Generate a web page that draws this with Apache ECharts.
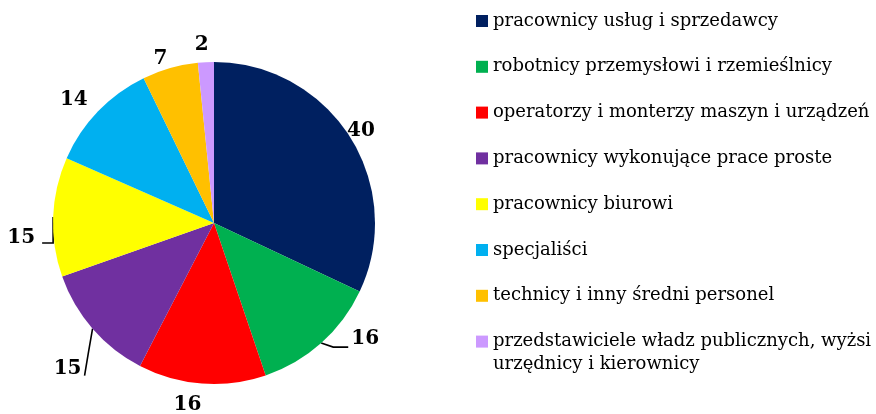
<!DOCTYPE html>
<html>
<head>
<meta charset="utf-8">
<script src="https://cdn.jsdelivr.net/npm/echarts@6/dist/echarts.min.js"></script>
<style>
  html, body { margin: 0; padding: 0; background: #fff; }
  #chart { width: 876px; height: 414px; }
</style>
</head>
<body>
<div id="chart"></div>
<script>
// categories and values, in drawing order (clockwise from 12 o'clock)
const categories = [
    "pracownicy usług i sprzedawcy",
    "robotnicy przemysłowi i rzemieślnicy",
    "operatorzy i monterzy maszyn i urządzeń",
    "pracownicy wykonujące prace proste",
    "pracownicy biurowi",
    "specjaliści",
    "technicy i inny średni personel",
    "przedstawiciele władz publicznych, wyżsi urzędnicy i kierownicy",
];
const values = [40, 16, 16, 15, 15, 14, 7, 2];
const colors = ["#002060", "#00B050", "#FF0000", "#7030A0", "#FFFF00", "#00B0F0", "#FFC000", "#CC99FF"];
// which labels get a leader line
const withLine = [false, true, false, true, true, false, false, false];
// nudges for labels [dx, dy] and leader line bends (relative to the slice edge point)
const labelNudge = [[-13, -3], [1, -13], [5, 15], [19, 32], [15, 21], [-1, -7], [4, -4], [8, -11]];
const lineBends = {
    1: [[12, 4], [27, 4]],
    3: [[-4, 23], [-8, 47]],
    4: [[0, 26], [-11, 26]],
};

const FONT = "DejaVu Serif";
const chart = echarts.init(document.getElementById("chart"));

const data = categories.map((name, i) => ({
    name: name,
    value: values[i],
    itemStyle: { color: colors[i] },
    labelLine: withLine[i]
        ? { show: true, length: 12, length2: 16 }
        : { show: false, length: 6, length2: 0 },
}));

const options = {
    animation: false,
    legend: {
        orient: "vertical",
        left: 471,
        top: 6,
        icon: "rect",
        itemWidth: 12,
        itemHeight: 12,
        itemGap: 25.8,
        selectedMode: false,
        data: categories,
        formatter: (name) => name === categories[7] ? "przedstawiciele władz publicznych, wyżsi" : name,
        textStyle: {
            fontFamily: FONT,
            fontSize: 18,
            lineHeight: 20,
            color: "#000",
        },
    },
    graphic: [
        {
            type: "text",
            left: 493,
            top: 355,
            style: {
                text: "urzędnicy i kierownicy",
                font: "18px '" + FONT + "'",
                fill: "#000",
            },
        },
    ],
    series: [
        {
            type: "pie",
            center: [214, 223],
            radius: 161,
            startAngle: 90,
            clockwise: true,
            avoidLabelOverlap: false,
            data: data,
            label: {
                show: true,
                position: "outside",
                formatter: "{c}",
                fontFamily: FONT,
                fontSize: 20,
                fontWeight: "bold",
                color: "#000",
            },
            labelLine: {
                lineStyle: { color: "#000", width: 1.6 },
            },
            labelLayout: (params) => {
                const i = params.dataIndex;
                const out = { dx: labelNudge[i][0], dy: labelNudge[i][1] };
                const pts = params.labelLinePoints;
                if (lineBends[i] && pts) {
                    const p0 = pts[0];
                    out.labelLinePoints = [
                        [p0[0], p0[1]],
                        [p0[0] + lineBends[i][0][0], p0[1] + lineBends[i][0][1]],
                        [p0[0] + lineBends[i][1][0], p0[1] + lineBends[i][1][1]],
                    ];
                }
                return out;
            },
            emphasis: { disabled: true },
        },
    ],
};
chart.setOption(options);
</script>
</body>
</html>
